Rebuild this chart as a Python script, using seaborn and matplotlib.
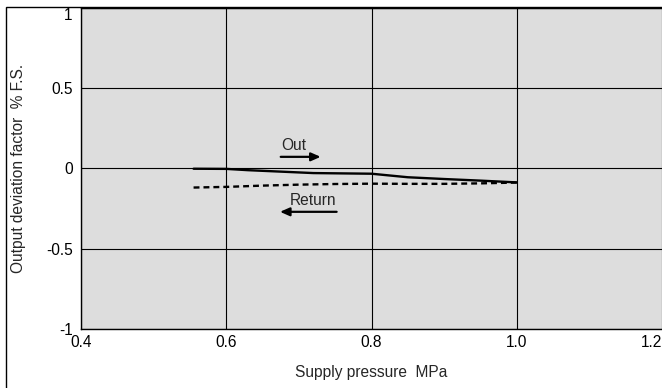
import matplotlib
matplotlib.use("Agg")
import matplotlib.pyplot as plt
from matplotlib.patches import Rectangle
import numpy as np
import pandas as pd
import seaborn as sns

# Output deviation vs supply pressure (increasing and decreasing pressure)
out_pressure = [0.555, 0.60, 0.63, 0.68, 0.72, 0.76, 0.80, 0.85, 0.90, 0.95, 1.00]
out_deviation = [-0.003, -0.004, -0.012, -0.022, -0.030, -0.032, -0.034, -0.056, -0.067, -0.077, -0.088]

return_pressure = [0.555, 0.60, 0.65, 0.70, 0.75, 0.80, 0.85, 0.90, 0.95, 1.00]
return_deviation = [-0.120, -0.116, -0.108, -0.102, -0.098, -0.096, -0.097, -0.097, -0.094, -0.089]

x_ticks = [0.4, 0.6, 0.8, 1.0, 1.2]
x_tick_labels = ["0.4", "0.6", "0.8", "1.0", "1.2"]
y_ticks = [-1, -0.5, 0, 0.5, 1]
y_tick_labels = ["-1", "-0.5", "0", "0.5", "1"]

x_label = "Supply pressure  MPa"
y_label = "Output deviation factor  % F.S."

sns.set_style("white", {"axes.facecolor": "#dddddd"})
plt.rcParams["font.family"] = ["Liberation Sans", "DejaVu Sans"]
plt.rcParams["font.size"] = 11.2

W, H = 662, 388
fig = plt.figure(figsize=(W / 100, H / 100), dpi=100)
ax = fig.add_axes([81 / W, (H - 329) / H, 581 / W, (329 - 7.5) / H])

out_df = pd.DataFrame({"pressure": out_pressure, "deviation": out_deviation})
ret_df = pd.DataFrame({"pressure": return_pressure, "deviation": return_deviation})

sns.lineplot(data=out_df, x="pressure", y="deviation", ax=ax,
             color="black", linewidth=1.7, zorder=3)
sns.lineplot(data=ret_df, x="pressure", y="deviation", ax=ax,
             color="black", linewidth=1.7, linestyle=(0, (2.5, 1.7)), zorder=3)

ax.set_xlim(0.4, 1.2)
ax.set_ylim(-1, 1)
ax.set_xticks(x_ticks)
ax.set_xticklabels(x_tick_labels)
ax.set_yticks(y_ticks)
ax.set_yticklabels(y_tick_labels)
ax.tick_params(axis="both", length=0, labelsize=11.2, colors="black")
ax.tick_params(axis="x", pad=4)
ax.tick_params(axis="y", pad=6)
ax.get_yticklabels()[-1].set_verticalalignment("top")
ax.get_xticklabels()[-1].set_horizontalalignment("right")

ax.grid(True, color="black", linewidth=0.8)
ax.set_axisbelow(False)
for side in ["left", "bottom", "top"]:
    ax.spines[side].set_color("black")
    ax.spines[side].set_linewidth(1.0)
ax.spines["right"].set_visible(False)

ax.set_xlabel(x_label, fontsize=11.2, labelpad=11)
ax.set_ylabel(y_label, fontsize=11.2, labelpad=14.5)

# Direction annotations
ax.text(0.693, 0.144, "Out", ha="center", va="center", fontsize=11.2)
ax.annotate("", xy=(0.730, 0.071), xytext=(0.675, 0.071),
            arrowprops=dict(arrowstyle="-|>,head_length=0.5,head_width=0.22",
                            color="black", lw=1.6, shrinkA=0, shrinkB=0))
ax.text(0.720, -0.203, "Return", ha="center", va="center", fontsize=11.2)
ax.annotate("", xy=(0.674, -0.271), xytext=(0.752, -0.271),
            arrowprops=dict(arrowstyle="-|>,head_length=0.5,head_width=0.22",
                            color="black", lw=1.6, shrinkA=0, shrinkB=0))

# Outer frame around the figure
fig.patches.append(Rectangle((6 / W, -0.1), 1.2, 1.1 - 7.5 / H,
                             transform=fig.transFigure, fill=False,
                             edgecolor="black", linewidth=1.0, zorder=0))

fig.savefig("out.png", dpi=100)
